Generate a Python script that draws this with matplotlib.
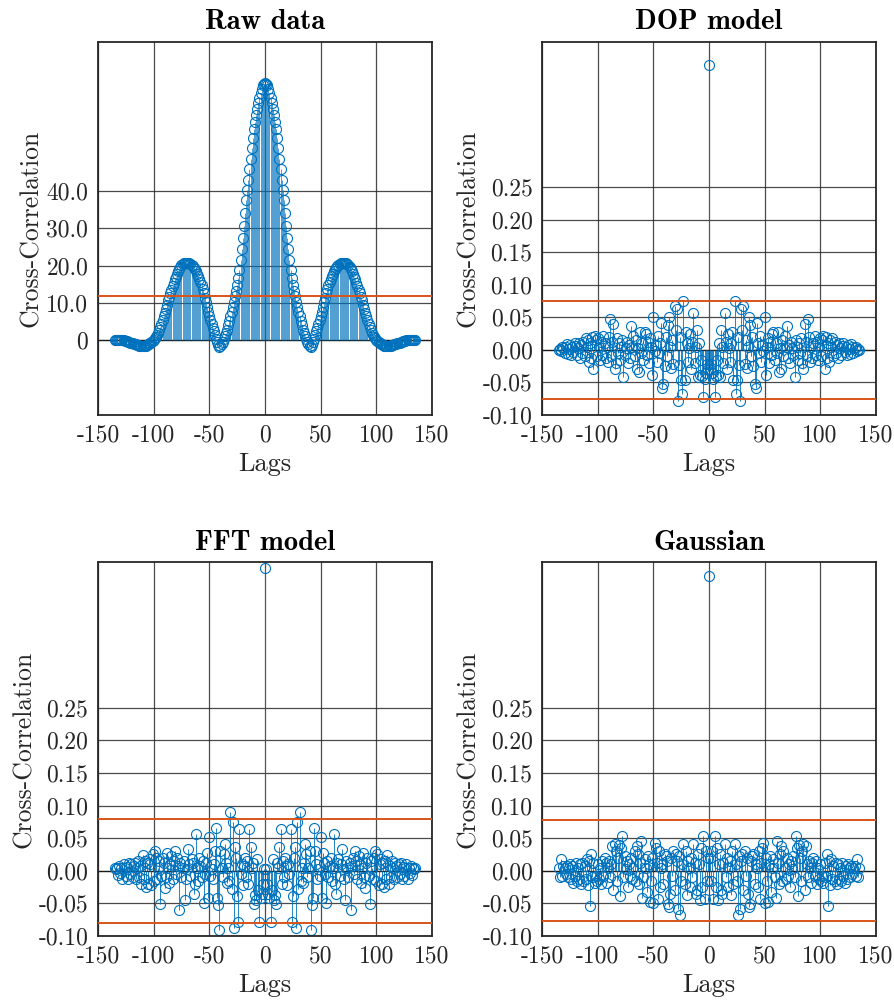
import numpy as np
import matplotlib
matplotlib.use("Agg")
import matplotlib.pyplot as plt

# ---------------------------------------------------------------------------
# Data: one-sided correlation values for lags 0..135 (sequences are symmetric)
# ---------------------------------------------------------------------------
max_lag = 135

raw_half = [
    69.0, 68.8, 68.3, 67.4, 66.3, 65.0, 63.6, 62.0, 60.3, 58.5,
    56.6, 54.2, 51.5, 48.6, 45.8, 43.0, 40.3, 37.6, 34.0, 30.6,
    27.4, 24.5, 21.6, 18.9, 16.6, 14.9, 13.3, 11.8, 10.3, 8.9,
    7.6, 6.4, 5.2, 4.0, 2.9, 1.9, 1.2, 0.4, -0.4, -1.1,
    -1.6, -1.7, -1.3, -0.5, 0.4, 1.4, 2.4, 3.4, 4.4, 5.4,
    6.4, 7.6, 8.9, 10.2, 11.4, 12.6, 13.7, 14.7, 15.6, 16.4,
    17.2, 17.9, 18.5, 19.0, 19.5, 19.9, 20.2, 20.5, 20.7, 20.8,
    20.8, 20.8, 20.7, 20.6, 20.4, 20.1, 19.7, 19.2, 18.6, 17.9,
    17.1, 16.3, 15.4, 14.5, 13.6, 12.6, 11.7, 10.7, 9.6, 8.5,
    7.4, 6.4, 5.4, 4.5, 3.6, 2.8, 2.1, 1.5, 1.0, 0.6,
    0.2, -0.1, -0.4, -0.7, -0.9, -1.1, -1.3, -1.4, -1.5, -1.5,
    -1.5, -1.5, -1.4, -1.4, -1.3, -1.2, -1.1, -1.0, -0.9, -0.8,
    -0.7, -0.6, -0.5, -0.4, -0.3, -0.2, -0.1, 0.0, 0.1, 0.1,
    0.2, 0.2, 0.2, 0.2, 0.2, 0.1,
]

dop_half = [
    0.438,
    -0.030, -0.022, -0.035, -0.045, -0.073, -0.040, -0.015, -0.039, 0.010, -0.042,
    0.030, 0.005, -0.020, 0.056, 0.012, -0.030, 0.025, 0.003, -0.018, 0.010,
    0.027, -0.046, 0.075, -0.068, -0.046, 0.020, -0.024, -0.078, 0.063, 0.030,
    0.068, -0.022, 0.015, -0.028, 0.005, 0.050, 0.038, -0.010, 0.020, -0.025,
    -0.052, -0.059, 0.041, 0.010, -0.005, 0.022, -0.018, 0.008, -0.002, 0.050,
    -0.039, 0.005, 0.018, -0.020, 0.012, -0.008, 0.025, 0.027, -0.015, 0.010,
    -0.005, 0.027, -0.034, 0.003, -0.030, 0.015, -0.010, 0.022, 0.005, 0.036,
    -0.012, 0.008, -0.020, 0.012, 0.003, -0.008, -0.042, 0.015, 0.005, -0.015,
    0.010, -0.005, 0.018, -0.020, -0.029, 0.040, 0.012, -0.010, 0.048, 0.020,
    -0.018, 0.005, -0.012, 0.010, 0.022, -0.008, 0.012, -0.015, 0.005, 0.018,
    -0.010, 0.015, 0.022, -0.029, 0.020, -0.012, 0.010, -0.018, 0.015, 0.005,
    0.018, -0.010, 0.012, -0.005, 0.008, -0.012, 0.010, 0.003, -0.008, 0.006,
    0.010, -0.004, 0.005, -0.008, 0.007, 0.002, -0.006, 0.009, 0.004, -0.005,
    0.003, 0.004, -0.002, 0.001, 0.000,
]

fft_half = [
    0.464,
    0.003, -0.020, -0.035, -0.041, -0.078, -0.030, 0.018, -0.045, -0.037, -0.051,
    0.012, 0.005, 0.037, 0.064, -0.020, 0.015, -0.010, 0.020, 0.008, -0.022,
    0.010, -0.005, 0.064, -0.079, -0.038, 0.020, 0.037, -0.088, 0.075, -0.028,
    0.090, -0.016, 0.005, -0.018, 0.012, 0.041, 0.025, -0.010, 0.005, 0.030,
    -0.091, -0.053, -0.042, 0.066, 0.031, 0.010, -0.012, 0.003, -0.008, 0.052,
    -0.041, 0.028, 0.012, -0.005, -0.050, 0.015, -0.010, 0.008, 0.020, -0.015,
    0.005, 0.057, -0.020, -0.035, 0.012, 0.018, -0.008, 0.010, 0.033, 0.002,
    -0.012, -0.045, 0.015, 0.005, -0.010, 0.012, -0.060, 0.008, 0.020, -0.005,
    0.031, 0.015, -0.012, 0.022, 0.010, -0.018, 0.005, 0.028, -0.010, -0.026,
    0.012, 0.020, -0.008, -0.051, 0.015, 0.005, -0.012, 0.020, 0.031, -0.015,
    0.025, -0.022, 0.010, 0.018, -0.020, 0.012, -0.025, 0.015, -0.012, 0.024,
    -0.020, 0.008, -0.010, 0.015, 0.005, -0.012, 0.012, 0.008, -0.010, 0.010,
    -0.005, 0.012, -0.012, 0.006, -0.008, 0.004, 0.010, -0.012, 0.005, -0.004,
    0.008, -0.006, 0.004, 0.002, 0.005,
]

gauss_half = [
    0.452,
    0.020, -0.015, 0.030, -0.044, 0.053, -0.025, 0.035, -0.045, 0.010, 0.025,
    -0.030, -0.036, 0.012, 0.041, -0.010, 0.020, -0.025, 0.005, 0.015, -0.037,
    0.030, -0.020, 0.041, 0.010, -0.015, -0.068, 0.022, -0.058, 0.015, 0.025,
    -0.030, 0.031, -0.008, 0.020, -0.035, -0.055, -0.051, 0.015, 0.022, 0.026,
    -0.020, 0.010, 0.005, -0.025, 0.030, -0.044, 0.012, 0.035, 0.043, -0.049,
    0.020, -0.015, -0.048, 0.010, 0.022, -0.032, 0.005, 0.018, -0.010, -0.041,
    0.046, 0.012, -0.020, 0.025, 0.038, -0.015, 0.030, 0.005, -0.012, 0.020,
    -0.008, 0.010, -0.025, 0.015, 0.003, 0.022, -0.010, 0.053, 0.035, -0.039,
    0.040, 0.020, -0.015, 0.030, 0.041, -0.029, 0.038, 0.010, -0.010, 0.015,
    0.005, -0.018, 0.012, 0.020, -0.008, 0.015, -0.020, 0.005, -0.012, 0.010,
    -0.015, -0.008, -0.018, 0.012, -0.010, 0.026, -0.054, 0.015, -0.022, 0.018,
    -0.012, 0.008, -0.015, 0.012, -0.020, 0.010, -0.012, 0.005, -0.015, 0.012,
    -0.008, -0.018, 0.008, -0.012, 0.010, 0.005, -0.010, 0.008, -0.005, 0.004,
    0.007, -0.008, 0.018, -0.010, 0.005,
]

titles = ["Raw data", "DOP model", "FFT model", "Gaussian"]
bounds = [12.0, 0.075, 0.080, 0.0775]          # significance levels
lower_bound_drawn = [False, True, True, True]

xticks = [-150, -100, -50, 0, 50, 100, 150]
raw_yticks = [0, 10, 20, 30, 40]
raw_yticklabels = ["0", "10.0", "20.0", "30.0", "40.0"]
model_yticks = [-0.10, -0.05, 0.00, 0.05, 0.10, 0.15, 0.20, 0.25]
model_yticklabels = ["-0.10", "-0.05", "0.00", "0.05", "0.10", "0.15", "0.20", "0.25"]


def full_sequence(half):
    """Mirror a one-sided correlation (lags 0..N) onto lags -N..N."""
    half = np.asarray(half, dtype=float)
    return np.concatenate([half[:0:-1], half])


lags = np.arange(-max_lag, max_lag + 1)
series = [full_sequence(h) for h in (raw_half, dop_half, fft_half, gauss_half)]

# ---------------------------------------------------------------------------
# Styling
# ---------------------------------------------------------------------------
plt.rcParams["font.family"] = ["cmr10", "DejaVu Serif"]
plt.rcParams["axes.unicode_minus"] = False
plt.rcParams["axes.formatter.use_mathtext"] = True

BLUE = "#0072BD"
ORANGE = "#D95319"
INK = "#262626"

W, H = 895, 1006
fig = plt.figure(figsize=(W / 100, H / 100), dpi=100)

# axes rectangles in pixels: left, top, right, bottom
boxes = [
    (98, 41.7, 432, 415),
    (542.3, 41.7, 875.7, 415),
    (98, 562.3, 432, 936),
    (542.3, 562.3, 875.7, 936),
]

for i, (x0, y0, x1, y1) in enumerate(boxes):
    ax = fig.add_axes([x0 / W, 1 - y1 / H, (x1 - x0) / W, (y1 - y0) / H])
    y = series[i]

    ax.set_axisbelow(True)
    ax.grid(True, color="#2a2a2a", linewidth=0.9, alpha=0.85)

    markerline, stemlines, baseline = ax.stem(lags, y, basefmt=" ")
    stemlines.set_color(BLUE)
    stemlines.set_linewidth(0.6)
    if i == 0:
        stemlines.set_alpha(0.8)
    markerline.set_marker("o")
    markerline.set_markersize(7.2)
    markerline.set_markerfacecolor("none")
    markerline.set_markeredgecolor(BLUE)
    markerline.set_markeredgewidth(0.8)
    markerline.set_linestyle("none")
    ax.axhline(0, color="#1a1a1a", linewidth=0.9, zorder=1.5)

    ax.axhline(bounds[i], color=ORANGE, linewidth=1.4, zorder=3)
    if lower_bound_drawn[i]:
        ax.axhline(-bounds[i], color=ORANGE, linewidth=1.4, zorder=3)

    ax.set_xlim(-150, 150)
    ax.set_xticks(xticks)
    ax.set_xticklabels([str(t) for t in xticks])
    if i == 0:
        ax.set_ylim(-20, 80)
        ax.set_yticks(raw_yticks)
        ax.set_yticklabels(raw_yticklabels)
    else:
        ax.set_ylim(-0.1, 0.473)
        ax.set_yticks(model_yticks)
        ax.set_yticklabels(model_yticklabels)

    ax.tick_params(direction="in", length=0, labelsize=17, pad=7, colors=INK)
    for sp in ax.spines.values():
        sp.set_color(INK)
        sp.set_linewidth(1.3)

    ax.set_title(titles[i], fontsize=20.5, family=["cmb10", "DejaVu Serif"],
                 fontweight="bold", pad=9)
    ax.set_xlabel("Lags", fontsize=19, labelpad=4, color=INK)
    ax.set_ylabel("Cross-Correlation", fontsize=18.5, labelpad=2, color=INK)

fig.savefig("out.png", dpi=100)
